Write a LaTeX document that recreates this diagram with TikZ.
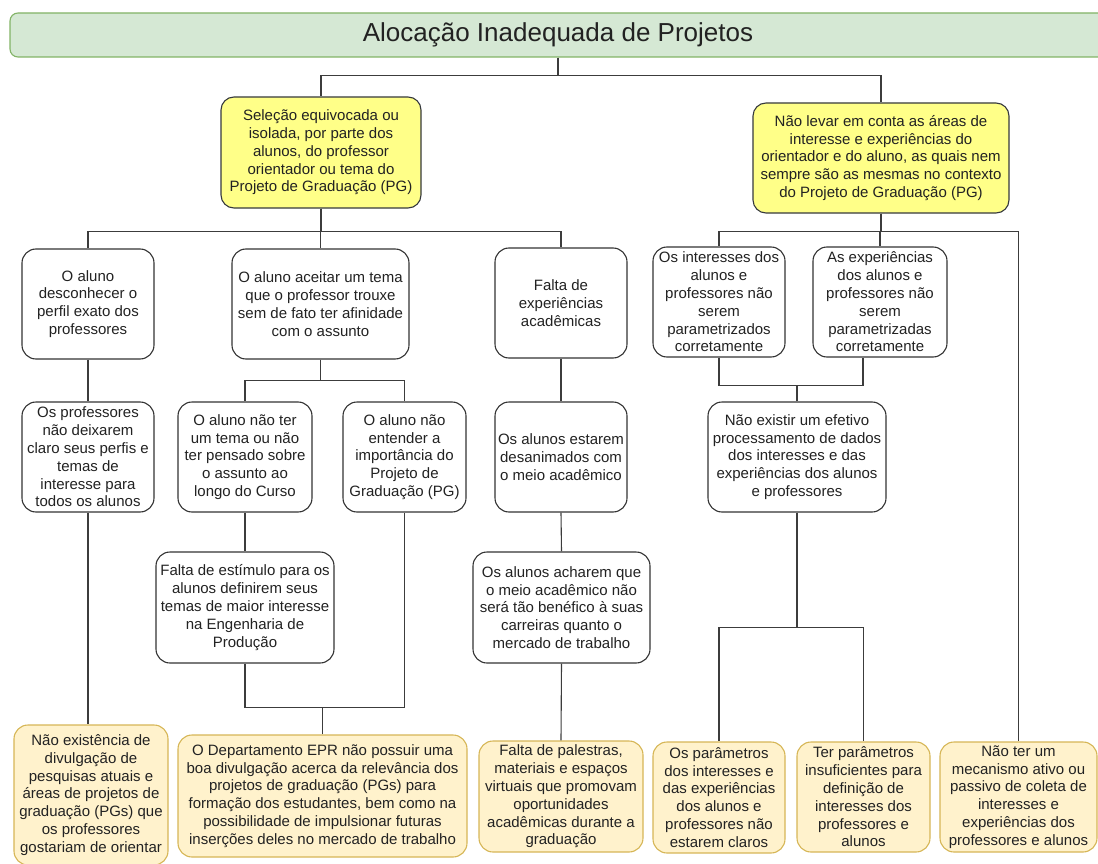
\documentclass[tikz,border=0pt]{standalone}
\usepackage{fontspec}
\setmainfont{Liberation Sans}
\definecolor{titlefill}{HTML}{D5E8D4}
\definecolor{titleline}{HTML}{82B366}
\definecolor{notefill}{HTML}{FFFF88}
\definecolor{noteline}{HTML}{36393D}
\definecolor{leaffill}{HTML}{FFF2CC}
\definecolor{leafline}{HTML}{D6B656}
\definecolor{boxline}{HTML}{333333}
\definecolor{wire}{HTML}{3C3C3C}
\definecolor{txt}{HTML}{222222}
\begin{document}
\begin{tikzpicture}[x=1pt,y=-1pt,
  base/.style={align=center, inner sep=0pt, line width=1.1pt, text=txt,
    font=\fontsize{15}{17.8}\selectfont},
  box/.style={base, draw=boxline, fill=white, rounded corners=14pt},
  cause/.style={base, draw=noteline, fill=notefill, rounded corners=13pt},
  leaf/.style={base, draw=leafline, fill=leaffill, rounded corners=14pt},
  heading/.style={base, draw=titleline, fill=titlefill, rounded corners=8pt,
    font=\fontsize{26}{30}\selectfont},
  wirestyle/.style={draw=wire, line width=1.1pt}
]
\useasboundingbox (0,0) rectangle (1098,864);

% title
\node[heading, minimum width=1096pt, minimum height=44pt] (title) at (558,35)
  {Alocação Inadequada de Projetos};

% first level causes
\node[cause, minimum width=200pt, minimum height=111pt] (y1) at (321,152.5)
  {Seleção equivocada ou\\isolada, por parte dos\\alunos, do professor\\orientador ou tema do\\Projeto de Graduação (PG)};
\node[cause, minimum width=256pt, minimum height=110pt] (y2) at (881,158)
  {Não levar em conta as áreas de\\interesse e experiências do\\orientador e do aluno, as quais nem\\sempre são as mesmas no contexto\\do Projeto de Graduação (PG)};

% second level
\node[box, minimum width=132pt, minimum height=110pt] (a) at (88,304)
  {O aluno\\desconhecer o\\perfil exato dos\\professores};
\node[box, minimum width=177pt, minimum height=110pt] (b) at (320.5,304)
  {O aluno aceitar um tema\\que o professor trouxe\\sem de fato ter afinidade\\com o assunto};
\node[box, minimum width=132pt, minimum height=110pt] (c) at (561,303)
  {Falta de\\experiências\\acadêmicas};
\node[box, minimum width=132pt, minimum height=110pt] (d) at (719,302)
  {Os interesses dos\\alunos e\\professores não\\serem\\parametrizados\\corretamente};
\node[box, minimum width=134pt, minimum height=110pt] (e) at (880,302)
  {As experiências\\dos alunos e\\professores não\\serem\\parametrizadas\\corretamente};

% third level
\node[box, minimum width=132pt, minimum height=110pt] (g) at (88,457)
  {Os professores\\não deixarem\\claro seus perfis e\\temas de\\interesse para\\todos os alunos};
\node[box, minimum width=134pt, minimum height=110pt] (j) at (245,457)
  {O aluno não ter\\um tema ou não\\ter pensado sobre\\o assunto ao\\longo do Curso};
\node[box, minimum width=123pt, minimum height=110pt] (k) at (404.5,457)
  {O aluno não\\entender a\\importância do\\Projeto de\\Graduação (PG)};
\node[box, minimum width=132pt, minimum height=110pt] (m) at (561,457)
  {Os alunos estarem\\desanimados com\\o meio acadêmico};
\node[box, minimum width=178pt, minimum height=110pt] (f) at (797,457)
  {Não existir um efetivo\\processamento de dados\\dos interesses e das\\experiências dos alunos\\e professores};

% fourth level
\node[box, minimum width=178pt, minimum height=111pt] (l) at (245,607.5)
  {Falta de estímulo para os\\alunos definirem seus\\temas de maior interesse\\na Engenharia de\\Produção};
\node[box, minimum width=177pt, minimum height=111pt] (n) at (561.5,607.5)
  {Os alunos acharem que\\o meio acadêmico não\\será tão benéfico à suas\\carreiras quanto o\\mercado de trabalho};

% root causes
\node[leaf, minimum width=154pt, minimum height=140pt] (h) at (91,795)
  {Não existência de\\divulgação de\\pesquisas atuais e\\áreas de projetos de\\graduação (PGs) que\\os professores\\gostariam de orientar};
\node[leaf, minimum width=289pt, minimum height=122pt] (i) at (322.5,796)
  {O Departamento EPR não possuir uma\\boa divulgação acerca da relevância dos\\projetos de graduação (PGs) para\\formação dos estudantes, bem como na\\possibilidade de impulsionar futuras\\inserções deles no mercado de trabalho};
\node[leaf, minimum width=164pt, minimum height=111pt] (o) at (561,796.5)
  {Falta de palestras,\\materiais e espaços\\virtuais que promovam\\oportunidades\\acadêmicas durante a\\graduação};
\node[leaf, minimum width=132pt, minimum height=111pt] (p) at (719,797.5)
  {Os parâmetros\\dos interesses e\\das experiências\\dos alunos e\\professores não\\estarem claros};
\node[leaf, minimum width=133pt, minimum height=110pt] (q) at (863.5,797)
  {Ter parâmetros\\insuficientes para\\definição de\\interesses dos\\professores e\\alunos};
\node[leaf, minimum width=157pt, minimum height=110pt] (r) at (1018.5,797)
  {Não ter um\\mecanismo ativo ou\\passivo de coleta de\\interesses e\\experiências dos\\professores e alunos};

% connectors
\begin{scope}[wirestyle]
  \draw (title.south) -- ++(0,18) -| (y1.north);
  \draw (title.south) -- ++(0,18) -| (y2.north);

  \draw (y1.south) -- ++(0,23) -| (a.north);
  \draw (y1.south) -- ++(0,23) -| (b.north);
  \draw (y1.south) -- ++(0,23) -| (c.north);

  \draw (y2.south) -- ++(0,18) -| (d.north);
  \draw (y2.south) -- ++(0,18) -| (e.north);
  \draw (y2.south) -- ++(0,18) -| (r.north);

  \draw (a.south) -- (g.north);
  \draw (g.south) -- (g.south |- h.north);

  \draw (b.south) -- ++(0,21) -| (j.north);
  \draw (b.south) -- ++(0,21) -| (k.north);
  \draw (j.south) -- (l.north);
  \draw (l.south) -- ++(0,44) coordinate (lk) -| (k.south);
  \draw (i.north) -- (i.north |- lk);

  \draw (c.south) -- (m.north);
  \draw (m.south) -- (n.north);
  \draw (n.south) -- (o.north);

  \draw (d.south) -- ++(0,28) coordinate (de) -| ([xshift=-17pt]e.south);
  \draw (f.north) -- (f.north |- de);
  \draw (f.south) -- ++(0,115) -| (p.north);
  \draw (f.south) -- ++(0,115) -| (q.north);
\end{scope}
\end{tikzpicture}
\end{document}
